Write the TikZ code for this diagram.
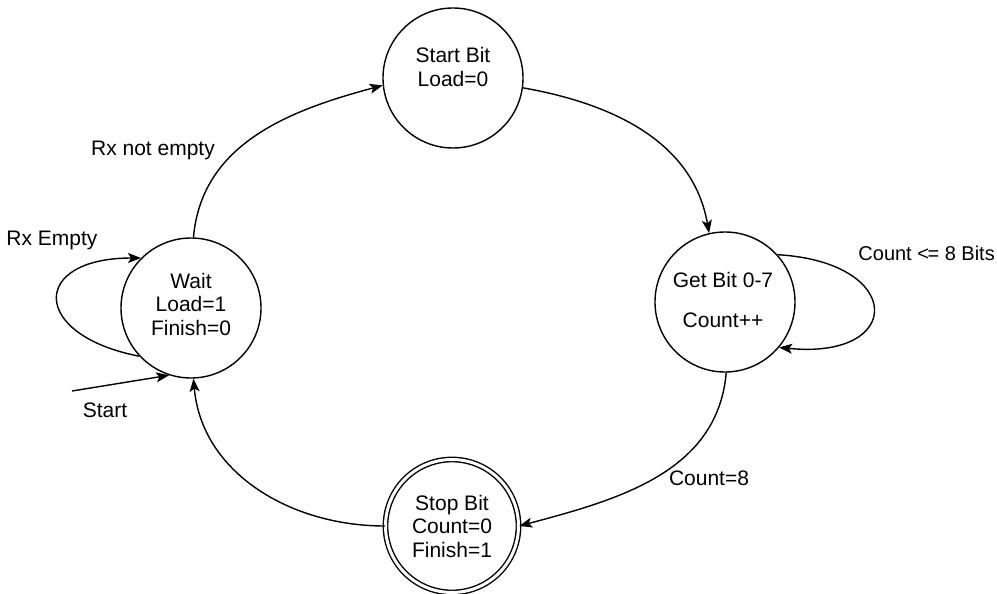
\documentclass[tikz,border=0pt]{standalone}
\usepackage{fontspec}
\setmainfont{Liberation Sans}
\usetikzlibrary{arrows.meta}
\begin{document}
\begin{tikzpicture}[x=1pt,y=1pt,
  state/.style={draw, circle, line width=1.4pt, minimum size=140pt, inner sep=0pt},
  final/.style={state, double, double distance=3pt, minimum size=133pt},
  txt/.style={font=\fontsize{21}{23.5}\selectfont, align=center, inner sep=0pt},
  edge/.style={draw, line width=1.4pt, -{Stealth[length=13pt,width=10pt,inset=3pt]}}]
  \useasboundingbox (0,0) rectangle (997,-594);

  % states
  \node[state] (start) at (453,-78) {};
  \node[state] (wait)  at (191,-308) {};
  \node[state] (get)   at (725,-302) {};
  \node[final] (stop)  at (452,-526) {};

  % state texts
  \node[txt] (starttxt) at (453,-67) {Start Bit\\Load=0};
  \node[txt] (waittxt)  at (191,-304) {Wait\\Load=1\\Finish=0};
  \node[txt, text height=15pt, text depth=4pt] (gettxt1) at (723,-282) {Get Bit 0-7};
  \node[txt, text height=15pt, text depth=4pt] (gettxt2) at (723,-322) {Count++};
  \node[txt] (stoptxt)  at (452,-526) {Stop Bit\\Count=0\\Finish=1};

  % transitions
  \draw[edge] (wait.88) to[out=85, in=195] (start.186);
  \draw[edge] (start.-8) to[out=-10, in=100] (get.103);
  \draw[edge] (get.-89) to[out=-95, in=15] (stop.0);
  \draw[edge] (stop.180) to[out=180, in=-85] (wait.-88);

  % self loops
  \draw[edge] (wait.223) .. controls (30,-335) and (30,-258) .. (wait.135);
  \draw[edge] (get.42) .. controls (905,-262) and (905,-360) .. (get.-40);

  % initial arrow
  \coordinate (init) at (72,-391);
  \draw[edge] (init) -- (wait.252);

  % labels
  \node[txt] (lrxne) at (153,-150) {Rx not empty};
  \node[txt] (lrxe)  at (52,-240) {Rx Empty};
  \node[txt] (lst)   at (105,-410) {Start};
  \node[txt, font=\fontsize{20}{22}\selectfont, anchor=east] (lcnt) at (995,-253) {Count <\kern-1.5pt= 8 Bits};
  \node[txt] (lc8)   at (709,-478) {Count=8};
\end{tikzpicture}
\end{document}
